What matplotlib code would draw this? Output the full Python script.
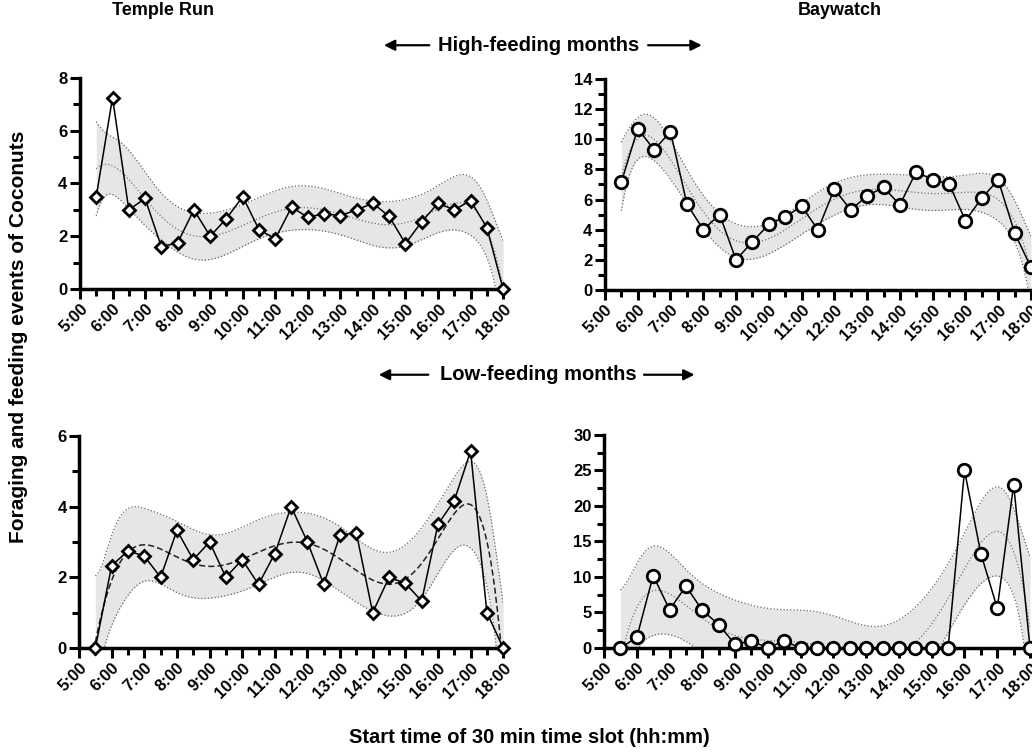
"""
Foraging / feeding events per 30 min slot, two sites, high vs low feeding months.
Points joined by lines, plus a polynomial fit with 95% confidence band.
"""

import numpy as np
import matplotlib.pyplot as plt
from matplotlib.ticker import MultipleLocator

plt.rcParams['font.family'] = ['Liberation Sans', 'DejaVu Sans']
plt.rcParams['font.weight'] = 'bold'

# ─────────────────────────────────────────────────────────────────────────────
# DATA — slot start times (hours) and mean events per slot
# ─────────────────────────────────────────────────────────────────────────────

slot_hours = [5.5, 6.0, 6.5, 7.0, 7.5, 8.0, 8.5, 9.0, 9.5, 10.0, 10.5, 11.0, 11.5,
              12.0, 12.5, 13.0, 13.5, 14.0, 14.5, 15.0, 15.5, 16.0, 16.5, 17.0,
              17.5, 18.0]

hour_labels = [f"{h}:00" for h in range(5, 19)]

temple_high = [3.5, 7.25, 3.0, 3.43, 1.6, 1.75, 3.0, 2.0, 2.67, 3.5, 2.25, 1.9, 3.1,
               2.72, 2.85, 2.78, 3.0, 3.25, 2.75, 1.72, 2.55, 3.25, 3.0, 3.35,
               2.33, 0.0]

baywatch_high = [7.15, 10.7, 9.3, 10.5, 5.7, 4.0, 5.0, 2.0, 3.2, 4.35, 4.85, 5.55, 4.0,
                 6.7, 5.3, 6.25, 6.8, 5.65, 7.85, 7.3, 7.05, 4.6, 6.1, 7.3,
                 3.8, 1.5]

temple_low = [0.0, 2.33, 2.75, 2.6, 2.0, 3.33, 2.5, 3.0, 2.0, 2.5, 1.8, 2.67, 4.0,
              3.0, 1.8, 3.2, 3.25, 1.0, 2.0, 1.83, 1.33, 3.5, 4.17, 5.57,
              1.0, 0.0]

baywatch_low = [0.0, 1.5, 10.2, 5.4, 8.7, 5.3, 3.3, 0.5, 1.0, 0.0, 1.0, 0.0, 0.0,
                0.0, 0.0, 0.0, 0.0, 0.0, 0.0, 0.0, 0.0, 25.0, 13.3, 5.6,
                23.0, 0.0]

# t(0.975, df) for the residual degrees of freedom used below
T_975 = {18: 2.101, 19: 2.093, 20: 2.086}


# ─────────────────────────────────────────────────────────────────────────────
# HELPERS
# ─────────────────────────────────────────────────────────────────────────────

def poly_fit_band(x, y, deg, xs):
    """Least-squares polynomial fit and 95% confidence band of the mean."""
    x = np.asarray(x, float)
    y = np.asarray(y, float)
    xc = x.mean()
    X = np.vander(x - xc, deg + 1)
    coef, *_ = np.linalg.lstsq(X, y, rcond=None)
    resid = y - X @ coef
    df = len(x) - deg - 1
    s2 = (resid ** 2).sum() / df
    cov = s2 * np.linalg.inv(X.T @ X)
    Xs = np.vander(xs - xc, deg + 1)
    fit = Xs @ coef
    se = np.sqrt(np.einsum('ij,jk,ik->i', Xs, cov, Xs))
    return fit, fit - T_975[df] * se, fit + T_975[df] * se


def draw_panel(ax, y, deg, marker, msize, ymax, ymajor, yminor, fit_style):
    xs = np.linspace(slot_hours[0], slot_hours[-1], 300)
    fit, lo, hi = poly_fit_band(slot_hours, y, deg, xs)

    ax.fill_between(xs, lo, hi, color='#e6e6e6', lw=0, zorder=1)
    ax.plot(xs, lo, color='#666666', lw=0.9, ls=':', zorder=2)
    ax.plot(xs, hi, color='#666666', lw=0.9, ls=':', zorder=2)
    if fit_style == 'dashed':
        ax.plot(xs, fit, color='#222222', lw=1.1, ls=(0, (4, 2)), zorder=2)
    else:
        ax.plot(xs, fit, color='#777777', lw=0.9, ls=':', zorder=2)

    ax.plot(slot_hours, y, color='black', lw=1.1, marker=marker, ms=msize,
            mfc='white', mec='black', mew=2.0, zorder=4, clip_on=False)

    ax.set_xlim(5, 18)
    ax.set_ylim(0, ymax)
    ax.set_xticks(range(5, 19))
    ax.set_xticklabels(hour_labels, rotation=45, ha='right',
                       rotation_mode='anchor', fontsize=12, fontweight='bold')
    ax.xaxis.set_minor_locator(MultipleLocator(0.5))
    ax.yaxis.set_major_locator(MultipleLocator(ymajor))
    ax.yaxis.set_minor_locator(MultipleLocator(yminor))
    for lbl in ax.get_yticklabels():
        lbl.set_fontsize(12)
        lbl.set_fontweight('bold')

    for side in ('top', 'right'):
        ax.spines[side].set_visible(False)
    for side in ('left', 'bottom'):
        ax.spines[side].set_linewidth(2.5)
    ax.tick_params(which='both', width=2.2, direction='out')
    ax.tick_params(which='major', length=7, pad=2)
    ax.tick_params(which='minor', length=5)


def arrow_label(fig, text, y, left, right):
    fig.text(0.5215, y, text, ha='center', va='center', fontsize=14.5,
             fontweight='bold')
    for x0, x1 in (left, right):
        fig.add_artist(plt.Annotation(
            '', xy=(x1, y), xytext=(x0, y), xycoords='figure fraction',
            arrowprops=dict(arrowstyle='-|>', color='black', lw=1.6,
                            mutation_scale=16, shrinkA=0, shrinkB=0)))


# ─────────────────────────────────────────────────────────────────────────────
# PLOT
# ─────────────────────────────────────────────────────────────────────────────

fig = plt.figure(figsize=(10.32, 7.54), dpi=100)

ax_tl = fig.add_axes([0.0775, 0.6167, 0.410, 0.2800])
ax_tr = fig.add_axes([0.5862, 0.6154, 0.4128, 0.2800])
ax_bl = fig.add_axes([0.0766, 0.1406, 0.411, 0.2812])
ax_br = fig.add_axes([0.5853, 0.1406, 0.4128, 0.2825])

draw_panel(ax_tl, temple_high, 6, 'D', 6, 8, 2, 1, 'dotted')
draw_panel(ax_tr, baywatch_high, 6, 'o', 9, 14, 2, 1, 'dotted')
draw_panel(ax_bl, temple_low, 7, 'D', 6, 6, 2, 1, 'dashed')
draw_panel(ax_br, baywatch_low, 6, 'o', 9, 30, 5, 2.5, 'dotted')

fig.text(0.158, 0.986, 'Temple Run', ha='center', va='center', fontsize=13,
         fontweight='bold')
fig.text(0.814, 0.986, 'Baywatch', ha='center', va='center', fontsize=13,
         fontweight='bold')

arrow_label(fig, 'High-feeding months', 0.940, (0.416, 0.372), (0.628, 0.680))
arrow_label(fig, 'Low-feeding months', 0.503, (0.415, 0.367), (0.624, 0.673))

fig.text(0.018, 0.553, 'Foraging and feeding events of Coconuts', rotation=90,
         ha='center', va='center', fontsize=15, fontweight='bold')
fig.text(0.513, 0.022, 'Start time of 30 min time slot (hh:mm)', ha='center',
         va='center', fontsize=14.5, fontweight='bold')

fig.savefig('out.png', dpi=100)
